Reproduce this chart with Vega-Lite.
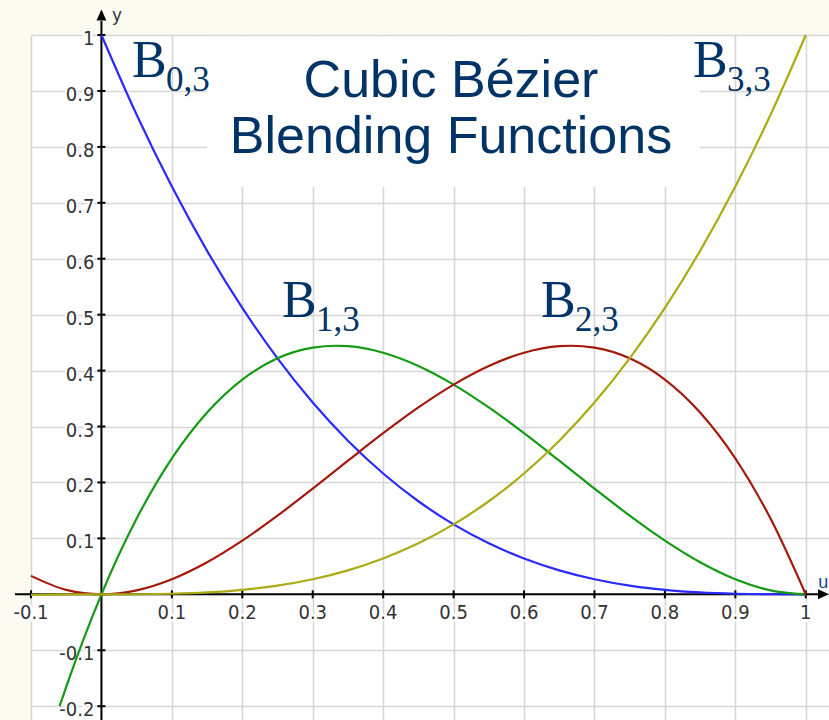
{
  "$schema": "https://vega.github.io/schema/vega-lite/v6.json",
  "width": 798,
  "height": 685,
  "padding": {"left": 31, "top": 35, "right": 0, "bottom": 0},
  "autosize": {"type": "none"},
  "background": "#fcfbf2",
  "config": {
    "view": {"fill": "white", "stroke": null},
    "axis": {"domain": false, "ticks": false, "labels": false, "title": null, "grid": true, "gridColor": "#d6d6d6", "gridWidth": 1.6}
  },
  "data": {"values": [{"one": 1}]},
  "datasets": {
    "curves": [
      {"f": "B0", "t": 0, "v": 1}, {"f": "B0", "t": 0.05, "v": 0.857375}, {"f": "B0", "t": 0.1, "v": 0.729}, {"f": "B0", "t": 0.15, "v": 0.614125}, {"f": "B0", "t": 0.2, "v": 0.512}, {"f": "B0", "t": 0.25, "v": 0.421875}, {"f": "B0", "t": 0.3, "v": 0.343}, {"f": "B0", "t": 0.35, "v": 0.274625}, {"f": "B0", "t": 0.4, "v": 0.216}, {"f": "B0", "t": 0.45, "v": 0.166375}, {"f": "B0", "t": 0.5, "v": 0.125}, {"f": "B0", "t": 0.55, "v": 0.091125}, {"f": "B0", "t": 0.6, "v": 0.064}, {"f": "B0", "t": 0.65, "v": 0.042875}, {"f": "B0", "t": 0.7, "v": 0.027}, {"f": "B0", "t": 0.75, "v": 0.015625}, {"f": "B0", "t": 0.8, "v": 0.008}, {"f": "B0", "t": 0.85, "v": 0.003375}, {"f": "B0", "t": 0.9, "v": 0.001}, {"f": "B0", "t": 0.95, "v": 0.000125}, {"f": "B0", "t": 1, "v": 0},
      {"f": "B1", "t": -0.0594, "v": -0.2}, {"f": "B1", "t": -0.05, "v": -0.165375}, {"f": "B1", "t": 0, "v": 0}, {"f": "B1", "t": 0.05, "v": 0.135375}, {"f": "B1", "t": 0.1, "v": 0.243}, {"f": "B1", "t": 0.15, "v": 0.325125}, {"f": "B1", "t": 0.2, "v": 0.384}, {"f": "B1", "t": 0.25, "v": 0.421875}, {"f": "B1", "t": 0.3, "v": 0.441}, {"f": "B1", "t": 0.3333, "v": 0.4444}, {"f": "B1", "t": 0.35, "v": 0.443625}, {"f": "B1", "t": 0.4, "v": 0.432}, {"f": "B1", "t": 0.45, "v": 0.408375}, {"f": "B1", "t": 0.5, "v": 0.375}, {"f": "B1", "t": 0.55, "v": 0.334125}, {"f": "B1", "t": 0.6, "v": 0.288}, {"f": "B1", "t": 0.65, "v": 0.238875}, {"f": "B1", "t": 0.7, "v": 0.189}, {"f": "B1", "t": 0.75, "v": 0.140625}, {"f": "B1", "t": 0.8, "v": 0.096}, {"f": "B1", "t": 0.85, "v": 0.057375}, {"f": "B1", "t": 0.9, "v": 0.027}, {"f": "B1", "t": 0.95, "v": 0.007125}, {"f": "B1", "t": 1, "v": 0},
      {"f": "B2", "t": -0.1, "v": 0.033}, {"f": "B2", "t": -0.05, "v": 0.007875}, {"f": "B2", "t": 0, "v": 0}, {"f": "B2", "t": 0.05, "v": 0.007125}, {"f": "B2", "t": 0.1, "v": 0.027}, {"f": "B2", "t": 0.15, "v": 0.057375}, {"f": "B2", "t": 0.2, "v": 0.096}, {"f": "B2", "t": 0.25, "v": 0.140625}, {"f": "B2", "t": 0.3, "v": 0.189}, {"f": "B2", "t": 0.35, "v": 0.238875}, {"f": "B2", "t": 0.4, "v": 0.288}, {"f": "B2", "t": 0.45, "v": 0.334125}, {"f": "B2", "t": 0.5, "v": 0.375}, {"f": "B2", "t": 0.55, "v": 0.408375}, {"f": "B2", "t": 0.6, "v": 0.432}, {"f": "B2", "t": 0.65, "v": 0.443625}, {"f": "B2", "t": 0.6667, "v": 0.4444}, {"f": "B2", "t": 0.7, "v": 0.441}, {"f": "B2", "t": 0.75, "v": 0.421875}, {"f": "B2", "t": 0.8, "v": 0.384}, {"f": "B2", "t": 0.85, "v": 0.325125}, {"f": "B2", "t": 0.9, "v": 0.243}, {"f": "B2", "t": 0.95, "v": 0.135375}, {"f": "B2", "t": 1, "v": 0},
      {"f": "B3", "t": -0.1, "v": -0.001}, {"f": "B3", "t": -0.05, "v": -0.000125}, {"f": "B3", "t": 0, "v": 0}, {"f": "B3", "t": 0.05, "v": 0.000125}, {"f": "B3", "t": 0.1, "v": 0.001}, {"f": "B3", "t": 0.15, "v": 0.003375}, {"f": "B3", "t": 0.2, "v": 0.008}, {"f": "B3", "t": 0.25, "v": 0.015625}, {"f": "B3", "t": 0.3, "v": 0.027}, {"f": "B3", "t": 0.35, "v": 0.042875}, {"f": "B3", "t": 0.4, "v": 0.064}, {"f": "B3", "t": 0.45, "v": 0.091125}, {"f": "B3", "t": 0.5, "v": 0.125}, {"f": "B3", "t": 0.55, "v": 0.166375}, {"f": "B3", "t": 0.6, "v": 0.216}, {"f": "B3", "t": 0.65, "v": 0.274625}, {"f": "B3", "t": 0.7, "v": 0.343}, {"f": "B3", "t": 0.75, "v": 0.421875}, {"f": "B3", "t": 0.8, "v": 0.512}, {"f": "B3", "t": 0.85, "v": 0.614125}, {"f": "B3", "t": 0.9, "v": 0.729}, {"f": "B3", "t": 0.95, "v": 0.857375}, {"f": "B3", "t": 1, "v": 1}
    ],
    "xticks": [
      {"v": -0.1, "label": "-0.1"}, {"v": 0.1, "label": "0.1"}, {"v": 0.2, "label": "0.2"}, {"v": 0.3, "label": "0.3"}, {"v": 0.4, "label": "0.4"}, {"v": 0.5, "label": "0.5"}, {"v": 0.6, "label": "0.6"}, {"v": 0.7, "label": "0.7"}, {"v": 0.8, "label": "0.8"}, {"v": 0.9, "label": "0.9"}, {"v": 1, "label": "1"}
    ],
    "yticks": [
      {"v": -0.2, "label": "-0.2"}, {"v": -0.1, "label": "-0.1"}, {"v": 0.1, "label": "0.1"}, {"v": 0.2, "label": "0.2"}, {"v": 0.3, "label": "0.3"}, {"v": 0.4, "label": "0.4"}, {"v": 0.5, "label": "0.5"}, {"v": 0.6, "label": "0.6"}, {"v": 0.7, "label": "0.7"}, {"v": 0.8, "label": "0.8"}, {"v": 0.9, "label": "0.9"}, {"v": 1, "label": "1"}
    ],
    "labels": [
      {"sub": "0,3", "x": 0.0434, "y": 0.9249},
      {"sub": "1,3", "x": 0.2564, "y": 0.4958},
      {"sub": "2,3", "x": 0.6241, "y": 0.4958},
      {"sub": "3,3", "x": 0.84, "y": 0.9249}
    ]
  },
  "layer": [
    {
      "data": {"name": "xticks"},
      "mark": {"type": "rule", "opacity": 0},
      "encoding": {
        "x": {"field": "v", "type": "quantitative", "scale": {"domain": [-0.1, 1.033], "nice": false, "zero": false}, "axis": {"values": [-0.1, 0, 0.1, 0.2, 0.3, 0.4, 0.5, 0.6, 0.7, 0.8, 0.9, 1]}},
        "y": {"datum": 0, "type": "quantitative", "scale": {"domain": [-0.2247, 1], "nice": false, "zero": false}, "axis": {"values": [-0.2, -0.1, 0, 0.1, 0.2, 0.3, 0.4, 0.5, 0.6, 0.7, 0.8, 0.9, 1]}}
      }
    },
    {
      "mark": {"type": "rect", "fill": "white"},
      "encoding": {
        "x": {"datum": 0.1499}, "x2": {"datum": 0.8499},
        "y": {"datum": 0.997}, "y2": {"datum": 0.728}
      }
    },
    {
      "mark": {"type": "rule", "color": "black", "strokeWidth": 2},
      "encoding": {"x": {"datum": -0.1227}, "x2": {"datum": 1.018}, "y": {"datum": 0}}
    },
    {
      "mark": {"type": "rule", "color": "black", "strokeWidth": 2},
      "encoding": {"x": {"datum": 0}, "y": {"datum": -0.2247}, "y2": {"datum": 1.025}}
    },
    {
      "mark": {"type": "point", "shape": "M-1,-0.9L1,0L-1,0.9Z", "size": 121, "filled": true, "color": "black", "opacity": 1},
      "encoding": {"x": {"datum": 1.0252}, "y": {"datum": 0}}
    },
    {
      "mark": {"type": "point", "shape": "M-0.9,1L0,-1L0.9,1Z", "size": 121, "filled": true, "color": "black", "opacity": 1},
      "encoding": {"x": {"datum": 0}, "y": {"datum": 1.0358}}
    },
    {
      "data": {"name": "xticks"},
      "mark": {"type": "tick", "orient": "vertical", "size": 8, "thickness": 2, "color": "black", "opacity": 1},
      "encoding": {"x": {"field": "v", "type": "quantitative"}, "y": {"datum": 0}}
    },
    {
      "data": {"name": "yticks"},
      "mark": {"type": "tick", "orient": "horizontal", "size": 8, "thickness": 2, "color": "black", "opacity": 1},
      "encoding": {"x": {"datum": 0}, "y": {"field": "v", "type": "quantitative"}}
    },
    {
      "data": {"name": "xticks"},
      "mark": {"type": "text", "align": "center", "baseline": "alphabetic", "dy": 25, "font": "Liberation Sans Narrow, DejaVu Sans Condensed, sans-serif", "fontSize": 20, "fill": "white", "stroke": "white", "strokeWidth": 5},
      "encoding": {"x": {"field": "v", "type": "quantitative"}, "y": {"datum": 0}, "text": {"field": "label"}}
    },
    {
      "data": {"name": "xticks"},
      "mark": {"type": "text", "align": "center", "baseline": "alphabetic", "dy": 25, "font": "Liberation Sans Narrow, DejaVu Sans Condensed, sans-serif", "fontSize": 20, "color": "#333333"},
      "encoding": {"x": {"field": "v", "type": "quantitative"}, "y": {"datum": 0}, "text": {"field": "label"}}
    },
    {
      "data": {"name": "yticks"},
      "mark": {"type": "text", "align": "right", "baseline": "alphabetic", "dx": -7, "dy": 10, "font": "Liberation Sans Narrow, DejaVu Sans Condensed, sans-serif", "fontSize": 20, "fill": "white", "stroke": "white", "strokeWidth": 4},
      "encoding": {"x": {"datum": 0}, "y": {"field": "v", "type": "quantitative"}, "text": {"field": "label"}}
    },
    {
      "data": {"name": "yticks"},
      "mark": {"type": "text", "align": "right", "baseline": "alphabetic", "dx": -7, "dy": 10, "font": "Liberation Sans Narrow, DejaVu Sans Condensed, sans-serif", "fontSize": 20, "color": "#333333"},
      "encoding": {"x": {"datum": 0}, "y": {"field": "v", "type": "quantitative"}, "text": {"field": "label"}}
    },
    {
      "mark": {"type": "text", "align": "left", "baseline": "alphabetic", "dx": 11, "font": "Liberation Sans", "fontSize": 18, "color": "#333333"},
      "encoding": {"x": {"datum": 0}, "y": {"datum": 1.025}, "text": {"value": "y"}}
    },
    {
      "mark": {"type": "text", "align": "right", "baseline": "alphabetic", "dy": -6, "font": "Liberation Sans", "fontSize": 18, "color": "#224488"},
      "encoding": {"x": {"datum": 1.032}, "y": {"datum": 0}, "text": {"value": "u"}}
    },
    {
      "data": {"name": "curves"},
      "mark": {"type": "line", "interpolate": "monotone", "strokeWidth": 2.2},
      "encoding": {
        "x": {"field": "t", "type": "quantitative"},
        "y": {"field": "v", "type": "quantitative"},
        "color": {"field": "f", "type": "nominal", "scale": {"domain": ["B0", "B1", "B2", "B3"], "range": ["#2a2aff", "#149a14", "#a3190c", "#aaaa14"]}, "legend": null},
        "order": {"field": "t", "type": "quantitative"}
      }
    },
    {
      "data": {"name": "labels"},
      "mark": {"type": "text", "align": "left", "baseline": "alphabetic", "font": "Liberation Serif", "fontSize": 52, "color": "#003366"},
      "encoding": {"x": {"field": "x", "type": "quantitative"}, "y": {"field": "y", "type": "quantitative"}, "text": {"value": "B"}}
    },
    {
      "data": {"name": "labels"},
      "mark": {"type": "text", "align": "left", "baseline": "alphabetic", "dx": 34, "dy": 14, "font": "Liberation Serif", "fontSize": 35, "color": "#003366"},
      "encoding": {"x": {"field": "x", "type": "quantitative"}, "y": {"field": "y", "type": "quantitative"}, "text": {"field": "sub"}}
    },
    {
      "mark": {"type": "text", "align": "center", "baseline": "alphabetic", "font": "Liberation Sans", "fontSize": 52, "color": "#003366"},
      "encoding": {"x": {"datum": 0.4963}, "y": {"datum": 0.8891}, "text": {"value": "Cubic Bézier"}}
    },
    {
      "mark": {"type": "text", "align": "center", "baseline": "alphabetic", "font": "Liberation Sans", "fontSize": 52, "color": "#003366"},
      "encoding": {"x": {"datum": 0.4963}, "y": {"datum": 0.789}, "text": {"value": "Blending Functions"}}
    }
  ]
}
